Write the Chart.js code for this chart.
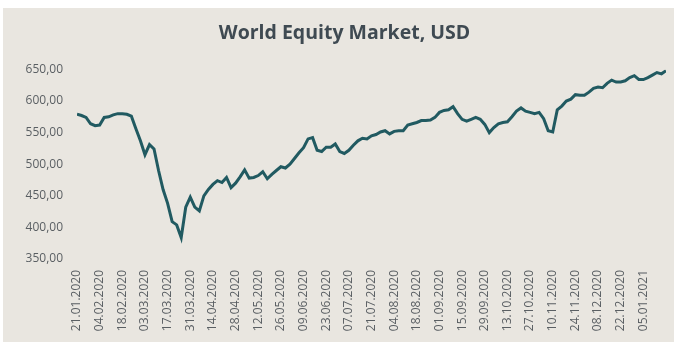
<!DOCTYPE html>
<html>
<head>
<meta charset="utf-8">
<script src="https://cdn.jsdelivr.net/npm/chart.js@4"></script>
<style>
    html, body { margin: 0; padding: 0; background: #ffffff; }
    #wrap {
        position: absolute;
        left: 3px;
        top: 8px;
        width: 671px;
        height: 334px;
        background: #e9e6e0;
    }
</style>
</head>
<body>
<div id="wrap"><canvas id="grafico"></canvas></div>
<script>
// Datas mostradas no eixo x (uma a cada 10 dias úteis)
const tickLabels = [
    '21.01.2020', '04.02.2020', '18.02.2020', '03.03.2020', '17.03.2020',
    '31.03.2020', '14.04.2020', '28.04.2020', '12.05.2020', '26.05.2020',
    '09.06.2020', '23.06.2020', '07.07.2020', '21.07.2020', '04.08.2020',
    '18.08.2020', '01.09.2020', '15.09.2020', '29.09.2020', '13.10.2020',
    '27.10.2020', '10.11.2020', '24.11.2020', '08.12.2020', '22.12.2020',
    '05.01.2021'
];

// Pontos a cada 2 dias úteis (5 pontos entre duas datas)
const pointsPerTick = 5;

// Valores
const equityValues = [
    579, 577, 574, 564, 561, 562, 574, 575, 578, 580,
    580, 579, 576, 556, 537, 515, 531, 524, 490, 460,
    438, 409, 404, 384, 432, 448, 432, 426, 450, 460,
    468, 474, 471, 479, 463, 470, 480, 491, 478, 479,
    482, 488, 477, 484, 490, 496, 494, 500, 509, 518,
    526, 540, 542, 522, 520, 527, 527, 532, 520, 517,
    522, 530, 537, 541, 540, 545, 547, 551, 553, 548,
    552, 553, 553, 562, 564, 566, 569, 569, 570, 574,
    582, 585, 586, 591, 580, 571, 568, 571, 574, 571,
    563, 550, 558, 564, 566, 567, 575, 584, 589, 584,
    582, 580, 582, 572, 553, 551, 586, 592, 600, 603,
    610, 609, 609, 614, 620, 622, 621, 628, 633, 630,
    630, 632, 637, 640, 634, 634, 637, 641, 645, 643,
    648
];

const yTicks = [350, 400, 450, 500, 550, 600, 650];

const pontos = equityValues.map((v, i) => ({ x: i, y: v }));

const ctx = document.getElementById('grafico').getContext('2d');

new Chart(ctx, {
    type: 'line',
    data: {
        datasets: [{
            label: 'World Equity Market, USD',
            data: pontos,
            borderColor: '#215a61',
            borderWidth: 3,
            pointRadius: 0,
            tension: 0,
            fill: false
        }]
    },
    options: {
        responsive: true,
        maintainAspectRatio: false,
        animation: false,
        layout: {
            padding: { left: 20, right: 8, top: 0, bottom: 0 }
        },
        scales: {
            x: {
                type: 'linear',
                min: 0,
                max: equityValues.length - 1,
                grid: { display: false, drawTicks: false },
                border: { display: false },
                afterFit: (scale) => { scale.height = 83; },
                ticks: {
                    stepSize: pointsPerTick,
                    autoSkip: false,
                    maxRotation: 90,
                    minRotation: 90,
                    padding: 11,
                    color: '#5a5f63',
                    font: { family: 'Open Sans', size: 12 },
                    callback: (value) => {
                        if (value % pointsPerTick !== 0) return null;
                        return tickLabels[value / pointsPerTick] ?? null;
                    }
                }
            },
            y: {
                min: yTicks[0],
                max: yTicks[yTicks.length - 1],
                grid: { display: false, drawTicks: false },
                border: { display: false },
                afterFit: (scale) => { scale.width = 54; },
                ticks: {
                    stepSize: 50,
                    padding: 14,
                    color: '#5a5f63',
                    font: { family: 'Open Sans', size: 12 },
                    callback: (value) => value.toFixed(2).replace('.', ',')
                }
            }
        },
        plugins: {
            legend: { display: false },
            tooltip: { enabled: false },
            title: {
                display: true,
                text: 'World Equity Market, USD',
                color: '#3f4a52',
                font: { family: 'Open Sans', size: 19.5, weight: 'bold' },
                padding: { top: 14, bottom: 24 }
            }
        }
    }
});
</script>
</body>
</html>
